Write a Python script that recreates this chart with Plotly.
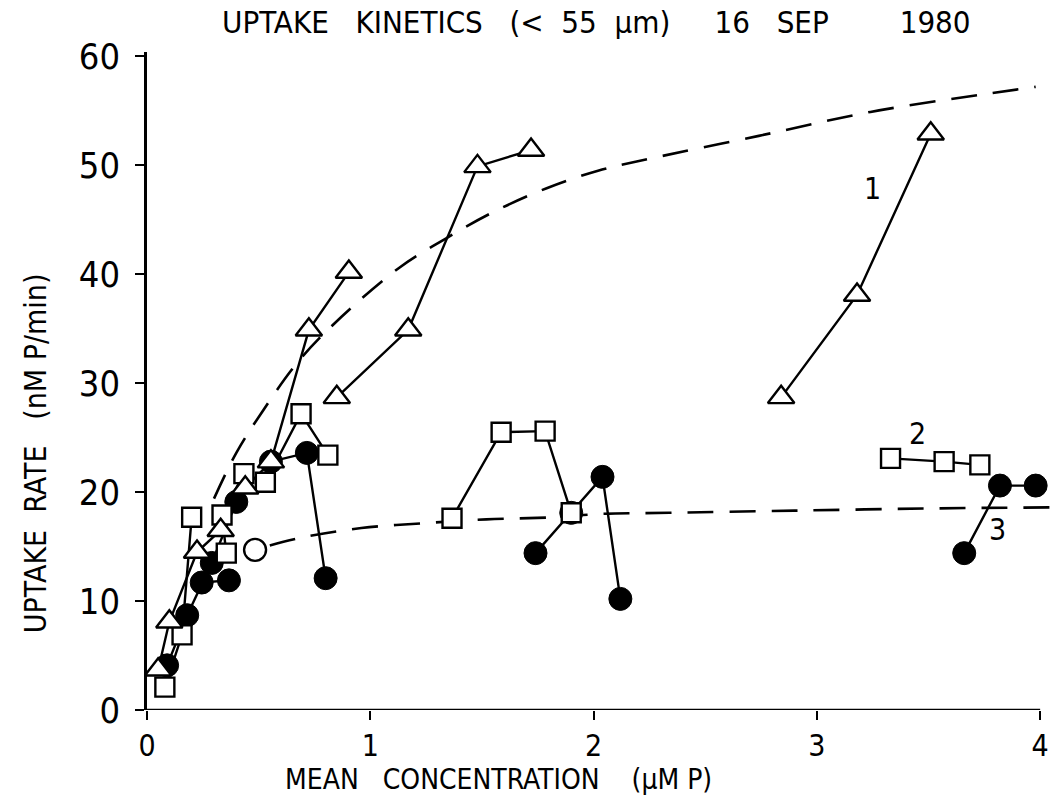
import plotly.graph_objects as go

# ---------------- data ----------------
# open triangles
tri_a_x = [0.85, 1.17, 1.48, 1.72]
tri_a_y = [28.7, 34.9, 49.9, 51.4]
tri_b_x = [0.05, 0.10, 0.224, 0.33, 0.44, 0.555, 0.725, 0.904]
tri_b_y = [3.7, 8.1, 14.5, 16.5, 20.4, 22.8, 34.9, 40.2]
tri_1_x = [2.84, 3.18, 3.51]
tri_1_y = [28.7, 38.1, 52.9]

# open squares
sq_a_x = [0.08, 0.157, 0.20]
sq_a_y = [2.1, 6.9, 17.7]
sq_b_x = [0.355, 0.336, 0.434]
sq_b_y = [14.4, 17.9, 21.7]
sq_c_x = [0.53, 0.69, 0.81]
sq_c_y = [20.9, 27.2, 23.4]
sq_d_x = [1.366, 1.586, 1.783, 1.90]
sq_d_y = [17.6, 25.5, 25.6, 18.1]
sq_2_x = [3.33, 3.57, 3.73]
sq_2_y = [23.1, 22.8, 22.5]

# filled circles
ci_a_x = [0.09, 0.18, 0.29, 0.40]
ci_a_y = [4.1, 8.7, 13.5, 19.1]
ci_b_x = [0.245, 0.367]
ci_b_y = [11.7, 11.9]
ci_c_x = [0.555, 0.716, 0.80]
ci_c_y = [22.8, 23.6, 12.1]
ci_d_x = [1.74, 1.90, 2.04, 2.12]
ci_d_y = [14.4, 18.1, 21.4, 10.2]
ci_3_x = [3.66, 3.82, 3.98]
ci_3_y = [14.4, 20.6, 20.6]

# open circle
oc_x = [0.484]
oc_y = [14.7]

# dashed fitted curves
fit_hi_x = [0.30, 0.40, 0.52, 0.67, 0.83, 1.13, 1.34, 1.55, 1.79, 2.02, 2.25, 2.74, 3.24, 3.74, 3.98]
fit_hi_y = [19.4, 23.6, 27.5, 31.8, 35.3, 40.6, 43.3, 45.7, 47.9, 49.5, 50.6, 52.7, 54.9, 56.5, 57.2]
fit_lo_x = [0.55, 0.71, 0.96, 1.28, 1.52, 1.83, 2.03, 2.34, 2.90, 3.50, 4.07]
fit_lo_y = [15.1, 15.9, 16.7, 17.2, 17.5, 17.7, 18.0, 18.1, 18.3, 18.5, 18.6]

x_ticks = [0, 1, 2, 3, 4]
x_ticklabels = ["0", "1", "2", "3", "4"]
y_ticks = [0, 10, 20, 30, 40, 50, 60]
y_ticklabels = ["0", "10", "20", "30", "40", "50", "60"]

run_labels = ["1", "2", "3"]
run_label_x = [3.25, 3.45, 3.81]
run_label_y = [47.9, 25.4, 16.6]

NB = "\u00a0"
title_text = (f"UPTAKE{NB*3}KINETICS{NB*3}(<{NB*2}55{NB*2}μm){NB*5}16{NB*3}SEP{NB*8}1980")
x_title = f"MEAN{NB*3}CONCENTRATION{NB*4}(μM{NB}P)"
y_title = f"UPTAKE{NB*2}RATE{NB*3}(nM{NB}P/min)"

# ---------------- figure ----------------
FONT = "DejaVu Sans Condensed, Liberation Sans Narrow, Liberation Sans, sans-serif"
LW = 2.4
fig = go.Figure()

# dashed curves
for xs, ys in [(fit_hi_x, fit_hi_y), (fit_lo_x, fit_lo_y)]:
    fig.add_trace(go.Scatter(x=xs, y=ys, mode="lines", line_shape="spline",
                             line=dict(color="black", width=2.6, dash="26px,16px"),
                             hoverinfo="skip", cliponaxis=False))

circle_runs = [(ci_a_x, ci_a_y), (ci_b_x, ci_b_y), (ci_c_x, ci_c_y), (ci_d_x, ci_d_y), (ci_3_x, ci_3_y)]
square_runs = [(sq_a_x, sq_a_y), (sq_b_x, sq_b_y), (sq_c_x, sq_c_y), (sq_d_x, sq_d_y), (sq_2_x, sq_2_y)]
tri_runs = [(tri_a_x, tri_a_y), (tri_b_x, tri_b_y), (tri_1_x, tri_1_y)]

# connecting lines first (under all markers)
for xs, ys in circle_runs + square_runs + tri_runs:
    fig.add_trace(go.Scatter(x=xs, y=ys, mode="lines",
                             line=dict(color="black", width=LW),
                             hoverinfo="skip", cliponaxis=False))

# markers
for xs, ys in circle_runs:
    fig.add_trace(go.Scatter(x=xs, y=ys, mode="markers", cliponaxis=False,
                             marker=dict(symbol="circle", size=23, color="black",
                                         line=dict(color="black", width=1))))
fig.add_trace(go.Scatter(x=oc_x, y=oc_y, mode="markers", cliponaxis=False,
                         marker=dict(symbol="circle", size=22, color="white",
                                     line=dict(color="black", width=LW))))
for xs, ys in square_runs:
    fig.add_trace(go.Scatter(x=xs, y=ys, mode="markers", cliponaxis=False,
                             marker=dict(symbol="square", size=19, color="white",
                                         line=dict(color="black", width=LW))))
for xs, ys in tri_runs:
    fig.add_trace(go.Scatter(x=xs, y=ys, mode="markers", cliponaxis=False,
                             marker=dict(symbol="triangle-up", size=23, color="white",
                                         line=dict(color="black", width=LW))))

# run labels
for t, lx, ly in zip(run_labels, run_label_x, run_label_y):
    fig.add_annotation(x=lx, y=ly, xref="x", yref="y", text=t, showarrow=False,
                       font=dict(family=FONT, size=30, color="black"))

# titles (plot area spans 658 px high, 911 px wide)
fig.add_annotation(x=0.493, y=1.0456, xref="paper", yref="paper", text=title_text,
                   showarrow=False, xanchor="center", yanchor="middle",
                   font=dict(family=FONT, size=31, color="black"))
fig.add_annotation(x=0.386, y=-0.1055, xref="paper", yref="paper", text=x_title,
                   showarrow=False, xanchor="center", yanchor="middle",
                   font=dict(family=FONT, size=28, color="black"))
fig.add_annotation(x=-0.122, y=0.39, xref="paper", yref="paper", text=y_title,
                   showarrow=False, xanchor="center", yanchor="middle", textangle=-90,
                   font=dict(family=FONT, size=30, color="black"))

# x axis line from first to last tick
fig.add_shape(type="line", xref="x", yref="y", x0=x_ticks[0], x1=x_ticks[-1], y0=0, y1=0,
              line=dict(color="black", width=2.6))

fig.update_layout(
    width=1061, height=796,
    margin=dict(l=147, r=3, t=52, b=86),
    paper_bgcolor="white", plot_bgcolor="white",
    showlegend=False,
    xaxis=dict(range=[0, 4.08], tickvals=x_ticks, ticktext=x_ticklabels,
               ticks="outside", ticklen=9, tickwidth=2.2, tickcolor="black",
               showline=False, showgrid=False, zeroline=False, automargin=False,
               tickfont=dict(family=FONT, size=30, color="black")),
    yaxis=dict(range=[0, 60.4], tickvals=y_ticks, ticktext=y_ticklabels,
               ticks="outside", ticklen=9, tickwidth=2.2, tickcolor="black",
               showline=True, linecolor="black", linewidth=2.6, automargin=False,
               showgrid=False, zeroline=False, ticklabelstandoff=8,
               tickfont=dict(family=FONT, size=36, color="black")),
)

# remove the browser's default 8px body margin so the figure fills the window exactly
fig.write_html("out.html", config={"displayModeBar": False},
               post_script="document.body.style.margin='0px';")
